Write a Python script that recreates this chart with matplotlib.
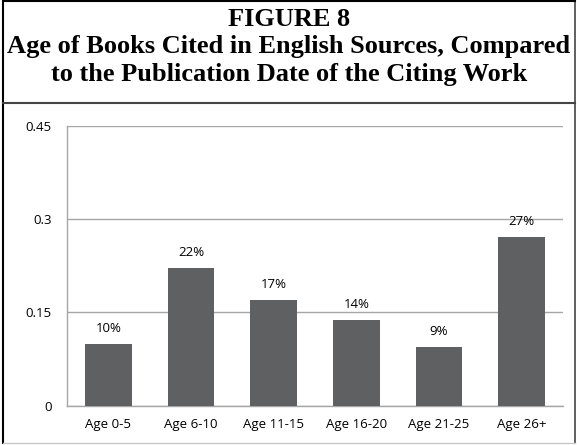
import matplotlib
matplotlib.use("Agg")
import matplotlib.pyplot as plt
from matplotlib.lines import Line2D

categories = ["Age 0-5", "Age 6-10", "Age 11-15", "Age 16-20", "Age 21-25", "Age 26+"]
values = [0.10, 0.222, 0.17, 0.138, 0.094, 0.271]
labels = ["10%", "22%", "17%", "14%", "9%", "27%"]
yticks = [0, 0.15, 0.3, 0.45]
ytick_labels = ["0", "0.15", "0.3", "0.45"]
title_lines = ["FIGURE 8",
               "Age of Books Cited in English Sources, Compared",
               "to the Publication Date of the Citing Work"]

W, H = 577, 445
fig = plt.figure(figsize=(W / 100, H / 100), dpi=100)

def fx(px):
    return px / W

def fy(py):
    return 1 - py / H

# outer frame
fig.add_artist(Line2D([fx(3), fx(3)], [fy(1), fy(443)], color="black", lw=1.5))
fig.add_artist(Line2D([fx(575), fx(575)], [fy(1), fy(443)], color="#444444", lw=1.2))
fig.add_artist(Line2D([fx(3), fx(575)], [fy(1), fy(1)], color="black", lw=1.5))
fig.add_artist(Line2D([fx(3), fx(575)], [fy(443), fy(443)], color="#c8c8c8", lw=1.0))
fig.add_artist(Line2D([fx(3), fx(575)], [fy(103), fy(103)], color="#444444", lw=1.5))

tfont = dict(family="Liberation Serif", weight="bold", size=19, ha="center", va="center")
for ty, txt in zip([19, 47, 75], title_lines):
    fig.text(fx(289), fy(ty), txt, **tfont)

ax = fig.add_axes([fx(67), fy(405.7), fx(563 - 67), (405.7 - 126) / H])
x = range(len(categories))
bars = ax.bar(x, values, width=0.565, color="#5f6062", zorder=3)
ax.set_ylim(0, 0.45)
ax.set_xlim(-0.5, len(categories) - 0.5)
ax.set_yticks(yticks)
ax.set_yticklabels(ytick_labels)
ax.set_xticks(list(x))
ax.set_xticklabels(categories)
ax.tick_params(length=0, labelsize=9.5, colors="black")
ax.tick_params(axis="y", pad=11)
ax.tick_params(axis="x", pad=9)
for lbl in ax.get_xticklabels() + ax.get_yticklabels():
    lbl.set_family("Open Sans")
ax.grid(axis="y", color="#a6a6a6", lw=1.0, zorder=0)
for s in ["top", "right"]:
    ax.spines[s].set_visible(False)
for s in ["left", "bottom"]:
    ax.spines[s].set_color("#a6a6a6")
    ax.spines[s].set_linewidth(1.0)

for b, lab in zip(bars, labels):
    ax.annotate(lab, (b.get_x() + b.get_width() / 2, b.get_height()),
                xytext=(0, 11), textcoords="offset points", ha="center", va="center",
                fontsize=9.5, family="Open Sans", zorder=4)

fig.savefig("out.png", dpi=100)
